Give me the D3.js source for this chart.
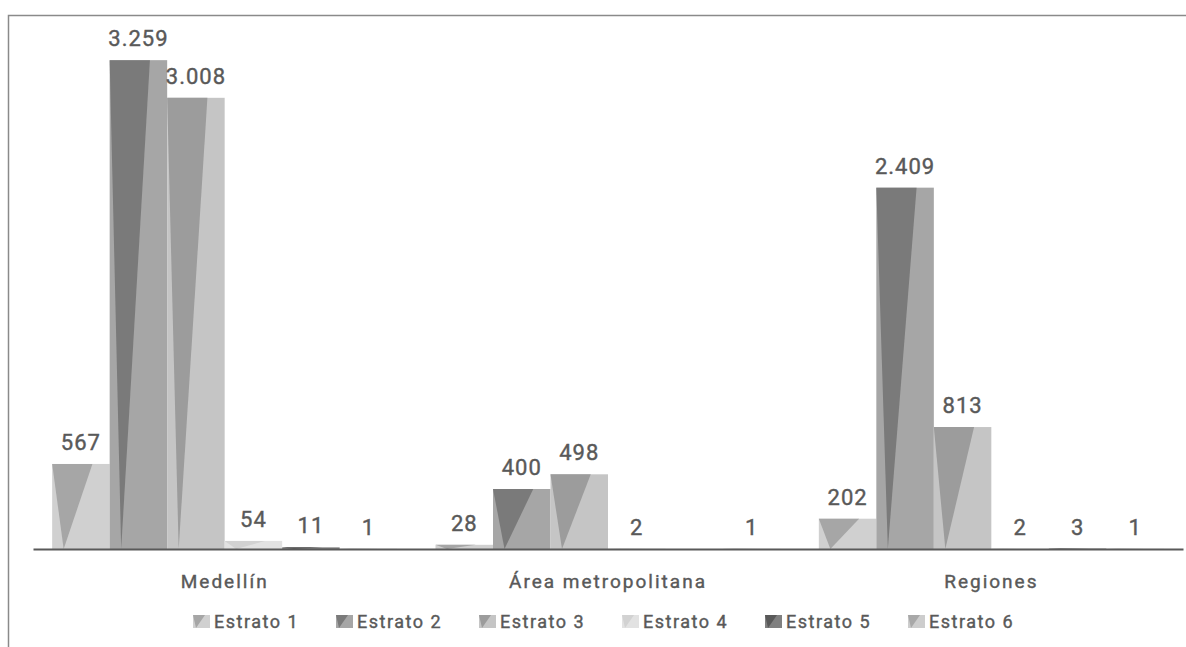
<!DOCTYPE html>
<html>
<head>
<meta charset="utf-8">
<script src="https://cdn.jsdelivr.net/npm/d3@7"></script>
<style>
	body { margin: 0; background: white; }
	text { font-family: Roboto, "DejaVu Sans", sans-serif; fill: #595959; stroke: #595959; stroke-width: 0.4px; }
</style>
</head>
<body>
<div id="divChart"></div>
<script>
var categories = ["Medellín", "Área metropolitana", "Regiones"];
var series = ["Estrato 1", "Estrato 2", "Estrato 3", "Estrato 4", "Estrato 5", "Estrato 6"];
var values = [
	[567, 3259, 3008, 54, 11, 1],
	[28, 400, 498, 2, null, 1],
	[202, 2409, 813, 2, 3, 1],
];
var valueLabels = [
	["567", "3.259", "3.008", "54", "11", "1"],
	["28", "400", "498", "2", "", "1"],
	["202", "2.409", "813", "2", "3", "1"],
];
// background and triangle shade per estrato
var bgColors = ["#d0d0d0", "#a6a6a6", "#c5c5c5", "#e2e2e2", "#808080", "#cdcdcd"];
var triColors = ["#a6a6a6", "#7a7a7a", "#9c9c9c", "#d2d2d2", "#595959", "#a8a8a8"];

var ctx = {
	width: 1186,
	height: 647,
	left: 33,
	right: 1183,
	baseline: 549,
};

var svg = d3
	.select("#divChart")
	.append("svg")
	.attr("width", ctx.width)
	.attr("height", ctx.height);

// outer frame (only left and top visible)
svg.append("path")
	.attr("d", "M8.5," + ctx.height + " L8.5,15.5 L" + ctx.width + ",15.5")
	.attr("fill", "none")
	.attr("stroke", "#8a8a8a")
	.attr("stroke-width", 1.5);

var x0 = d3
	.scaleBand()
	.domain(categories)
	.range([ctx.left, ctx.right])
	.paddingInner(0.1)
	.paddingOuter(0.05);

var x1 = d3
	.scaleBand()
	.domain(series)
	.range([0, x0.bandwidth()]);

var y = d3
	.scaleLinear()
	.domain([0, 3500])
	.range([ctx.baseline, ctx.baseline - 3500 * 0.15]);

var bars = [];
categories.forEach(function (c, i) {
	series.forEach(function (s, j) {
		if (values[i][j] != null) {
			bars.push({ cat: c, ser: s, j: j, v: values[i][j], label: valueLabels[i][j] });
		}
	});
});

var g = svg.append("g");

g.selectAll("rect.bar")
	.data(bars)
	.join("rect")
	.attr("class", "bar")
	.attr("x", (d) => x0(d.cat) + x1(d.ser))
	.attr("y", (d) => y(d.v))
	.attr("width", x1.bandwidth())
	.attr("height", (d) => y(0) - y(d.v))
	.attr("fill", (d) => bgColors[d.j]);

g.selectAll("polygon.tri")
	.data(bars)
	.join("polygon")
	.attr("class", "tri")
	.attr("points", function (d) {
		var bx = x0(d.cat) + x1(d.ser);
		var w = x1.bandwidth();
		return [
			[bx, y(d.v)],
			[bx + 0.7 * w, y(d.v)],
			[bx + 0.2 * w, y(0)],
		].join(" ");
	})
	.attr("fill", (d) => triColors[d.j]);

g.selectAll("text.val")
	.data(bars)
	.join("text")
	.attr("class", "val")
	.attr("x", (d) => x0(d.cat) + x1(d.ser) + x1.bandwidth() / 2)
	.attr("y", (d) => y(d.v) - 14)
	.attr("text-anchor", "middle")
	.style("font-size", "22px")
	.style("letter-spacing", "1px")
	.text((d) => d.label);

// category axis
var xAxis = svg
	.append("g")
	.attr("class", "x-axis")
	.attr("transform", "translate(0," + ctx.baseline + ")")
	.call(d3.axisBottom(x0).tickSize(0).tickPadding(0));

xAxis.select(".domain").attr("stroke", "#595959").attr("stroke-width", 2);
xAxis
	.selectAll("text")
	.attr("dy", null)
	.attr("y", 39)
	.style("font-size", "19px")
	.style("letter-spacing", "2px")
	.style("font-family", "Roboto, sans-serif")
	.attr("fill", "#595959");

// legend
var legend = svg
	.append("g")
	.selectAll("g")
	.data(series)
	.join("g")
	.attr("transform", (d, i) => "translate(" + (193 + i * 143) + ",615)");

legend.append("rect")
	.attr("width", 17)
	.attr("height", 13)
	.attr("fill", (d, i) => bgColors[i]);

legend.append("polygon")
	.attr("points", "0,0 12,0 3,13")
	.attr("fill", (d, i) => triColors[i]);

legend.append("text")
	.attr("x", 21)
	.attr("y", 13)
	.style("font-size", "18px")
	.style("letter-spacing", "1.5px")
	.text((d) => d);
</script>
</body>
</html>
